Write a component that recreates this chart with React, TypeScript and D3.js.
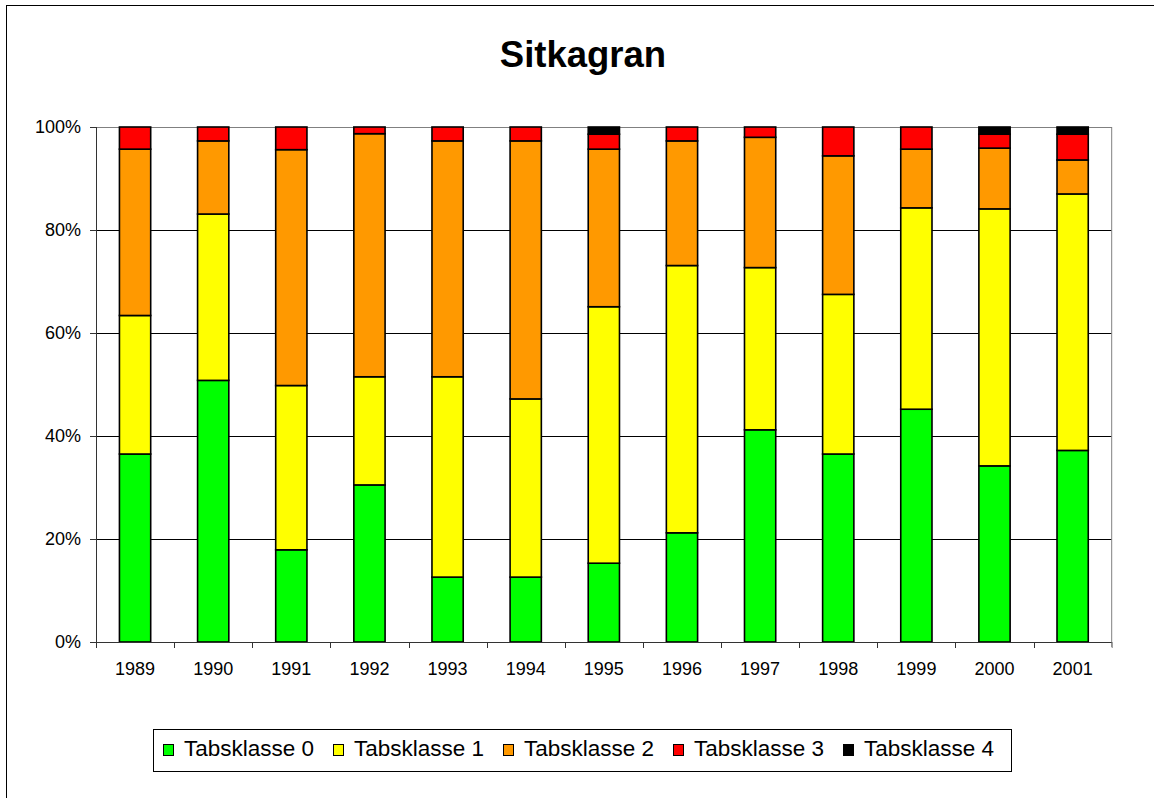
import React from "react";
import * as d3 from "d3";

const years = ["1989","1990","1991","1992","1993","1994","1995","1996","1997","1998","1999","2000","2001"];
const klasse0 = [36.5, 50.8, 17.9, 30.5, 12.6, 12.6, 15.3, 21.2, 41.2, 36.5, 45.2, 34.2, 37.2];
const klasse1 = [26.9, 32.3, 31.9, 21.0, 38.9, 34.6, 49.8, 51.9, 31.5, 31.0, 39.1, 49.9, 49.8];
const klasse2 = [32.3, 14.2, 45.8, 47.2, 45.8, 50.1, 30.6, 24.2, 25.3, 26.9, 11.4, 11.8, 6.6];
const klasse3 = [4.3, 2.7, 4.4, 1.3, 2.7, 2.7, 2.9, 2.7, 2.0, 5.6, 4.3, 2.7, 5.0];
const klasse4 = [0, 0, 0, 0, 0, 0, 1.4, 0, 0, 0, 0, 1.4, 1.4];
const seriesNames = ["Tabsklasse 0","Tabsklasse 1","Tabsklasse 2","Tabsklasse 3","Tabsklasse 4"];
const seriesColors = ["#00FF00","#FFFF00","#FF9900","#FF0000","#000000"];
const yTicks = [0, 0.2, 0.4, 0.6, 0.8, 1.0];

export default function App() {
  const W = 1154, H = 798;
  const left = 96, right = 1111.7, top = 127, bottom = 642;
  const allSeries = [klasse0, klasse1, klasse2, klasse3, klasse4];
  const rows = years.map((yr, i) => {
    const tot = allSeries.reduce((s, a) => s + a[i], 0);
    const r: any = { year: yr };
    seriesNames.forEach((n, k) => (r[n] = allSeries[k][i] / tot));
    return r;
  });
  const stack = d3.stack<any>().keys(seriesNames)(rows);
  const x = d3.scaleBand().domain(years).range([left, right]).paddingInner(0.6).paddingOuter(0.3);
  const xOuter = d3.scaleBand().domain(years).range([left, right]);
  const y = d3.scaleLinear().domain([0, 1]).range([bottom, top]);
  const font = "Arial, 'Liberation Sans', sans-serif";
  const legendX0 = 163, legendStep = 170;

  return (
    <div style={{ position: "absolute", left: 0, top: 0 }}>
      <svg width={W} height={H} style={{ display: "block", background: "#fff" }}>
        <rect x={6.5} y={5.5} width={1200} height={900} fill="#fff" stroke="#000" strokeWidth={1} />
        <text x={583} y={67} textAnchor="middle" fontFamily={font} fontWeight="bold" fontSize={36.5}>Sitkagran</text>
        {/* gridlines */}
        {yTicks.map((t) => (
          <line key={"g" + t} x1={left} x2={right} y1={Math.round(y(t)) + 0.5} y2={Math.round(y(t)) + 0.5} stroke="#000" strokeWidth={1} />
        ))}
        {/* plot border */}
        <line x1={left} x2={right} y1={top + 0.5} y2={top + 0.5} stroke="#808080" />
        <line x1={right} x2={right} y1={top} y2={bottom + 5} stroke="#808080" />
        {/* bars */}
        {stack.map((s, k) => (
          <g key={s.key}>
            {s.map((d: any, i: number) =>
              d[1] - d[0] > 0 ? (
                <rect key={i} x={x(years[i])!} width={x.bandwidth()} y={y(d[1])} height={y(d[0]) - y(d[1])}
                  fill={seriesColors[k]} stroke="#000" strokeWidth={1.6} />
              ) : null
            )}
          </g>
        ))}
        {/* y axis */}
        <line x1={left + 0.5} x2={left + 0.5} y1={top} y2={bottom} stroke="#333" strokeWidth={1} />
        {yTicks.map((t) => (
          <g key={"y" + t}>
            <line x1={left - 6} x2={left} y1={Math.round(y(t)) + 0.5} y2={Math.round(y(t)) + 0.5} stroke="#333" />
            <text x={81} y={y(t) + 6} textAnchor="end" fontFamily={font} fontSize={18}>{d3.format(".0%")(t)}</text>
          </g>
        ))}
        {/* x axis */}
        <line x1={left} x2={right} y1={bottom + 0.5} y2={bottom + 0.5} stroke="#333" />
        {years.map((yr, i) => (
          <g key={"x" + yr}>
            <line x1={Math.round(xOuter(yr)!) + 0.5} x2={Math.round(xOuter(yr)!) + 0.5} y1={bottom} y2={bottom + 6} stroke="#333" />
            <text x={xOuter(yr)! + xOuter.bandwidth() / 2} y={675} textAnchor="middle" fontFamily={font} fontSize={18}>{yr}</text>
          </g>
        ))}
        <line x1={right + 0.5} x2={right + 0.5} y1={bottom} y2={bottom + 6} stroke="#808080" />
        {/* legend */}
        <rect x={153.5} y={729.5} width={858} height={42} fill="#fff" stroke="#000" strokeWidth={1} />
        {seriesNames.map((n, k) => (
          <g key={"l" + n}>
            <rect x={legendX0 + k * legendStep + 0.5} y={744.5} width={10} height={11} fill={seriesColors[k]} stroke="#000" strokeWidth={1} />
            <text x={legendX0 + k * legendStep + 21} y={756} fontFamily={font} fontSize={22.5}>{n}</text>
          </g>
        ))}
      </svg>
    </div>
  );
}
